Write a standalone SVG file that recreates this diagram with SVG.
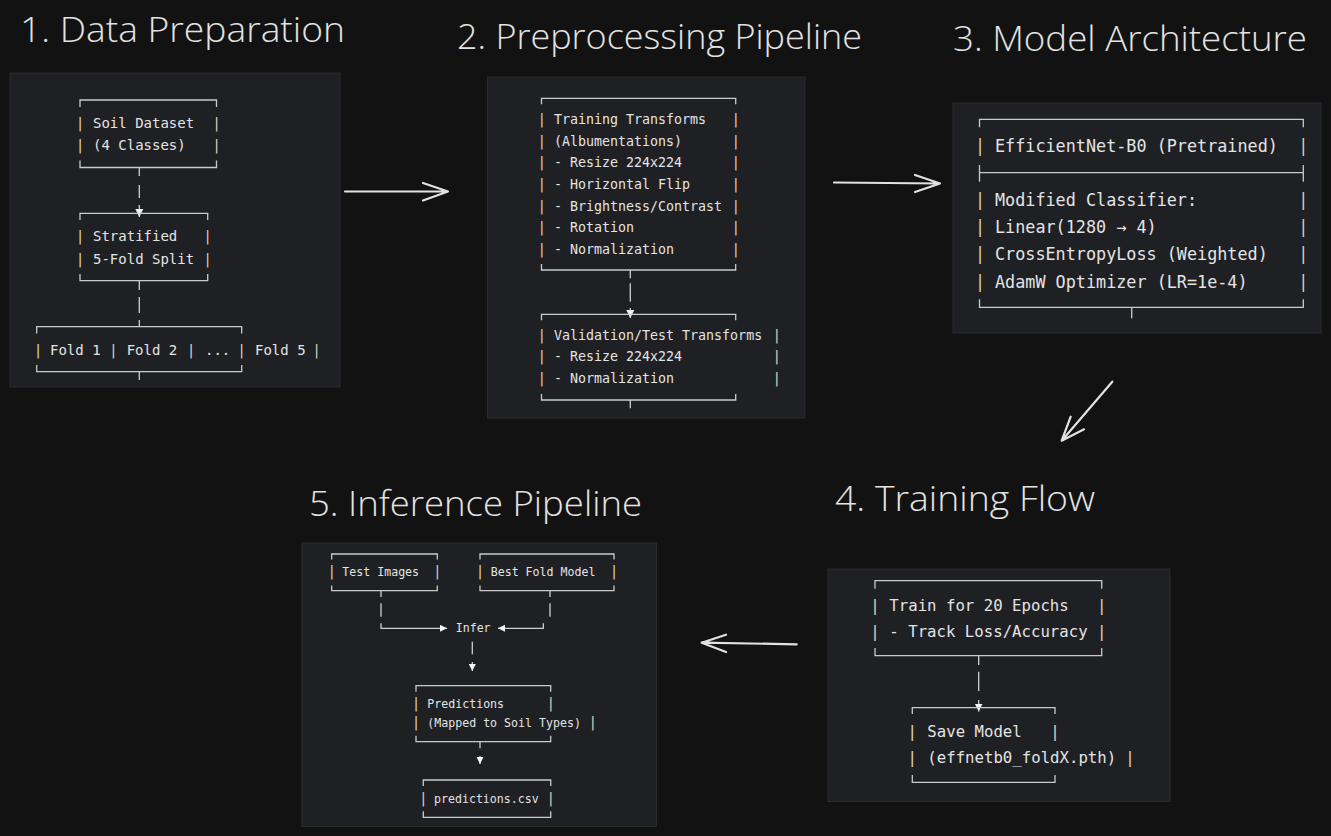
<svg xmlns="http://www.w3.org/2000/svg" width="1331" height="836" viewBox="0 0 1331 836">
<style>
.bg{fill:#121212}
.panel{fill:#1f2024;stroke:#2a2b2f;stroke-width:1}
.title{font-family:"Open Sans","Noto Sans",sans-serif;fill:#e3e3e3;font-size:34px;font-weight:300}
.mono{font-family:"DejaVu Sans Mono","Liberation Mono",monospace;fill:#e4e4e4}
.bar{font-family:"DejaVu Sans Mono","Liberation Mono",monospace;fill:#d9cdb9;text-anchor:middle}
.p1{font-size:14px}.p2{font-size:13.3px}.p3{font-size:16.8px}.p4{font-size:15.7px}.p5{font-size:11.6px}
.b1{font-size:14.5px}.b2{font-size:14.3px}.b3{font-size:16.8px}.b4{font-size:16.5px}.b5{font-size:14.3px}
.box{fill:none;stroke:#cacaca;stroke-width:1.3}
.conn{fill:none;stroke:#cfcfcf;stroke-width:1.3}
.big{fill:none;stroke:#e2e2e2;stroke-width:2.2;stroke-linecap:round;stroke-linejoin:round}
</style>
<defs>
<marker id="tri" viewBox="0 0 10 10" refX="10" refY="5" markerUnits="userSpaceOnUse" markerWidth="8" markerHeight="9" orient="auto">
<path d="M0,0 L10,5 L0,10 z" fill="#f2f2f2"/>
</marker>
<marker id="tri5" viewBox="0 0 10 10" refX="10" refY="5" markerUnits="userSpaceOnUse" markerWidth="7" markerHeight="7.5" orient="auto">
<path d="M0,0 L10,5 L0,10 z" fill="#f2f2f2"/>
</marker>
</defs>
<rect class="bg" x="0" y="0" width="1331" height="836"/>

<g id="panels">
<rect class="panel" x="10" y="73" width="330" height="314"/>
<rect class="panel" x="487.5" y="77" width="317.5" height="341"/>
<rect class="panel" x="953" y="103" width="368" height="230"/>
<rect class="panel" x="302" y="543" width="354.5" height="283.5"/>
<rect class="panel" x="828" y="569" width="342" height="232.5"/>
</g>

<g id="titles">
<text class="title" x="20" y="42" textLength="325" lengthAdjust="spacingAndGlyphs">1. Data Preparation</text>
<text class="title" x="457" y="49" textLength="405" lengthAdjust="spacingAndGlyphs">2. Preprocessing Pipeline</text>
<text class="title" x="953" y="51" textLength="354" lengthAdjust="spacingAndGlyphs">3. Model Architecture</text>
<text class="title" x="835" y="511" textLength="260" lengthAdjust="spacingAndGlyphs">4. Training Flow</text>
<text class="title" x="309" y="516" textLength="333" lengthAdjust="spacingAndGlyphs">5. Inference Pipeline</text>
</g>

<g id="connectors">
<path class="conn" d="M139.3,167.5 V176 M139.3,185 V198 M139.3,205 V217" marker-end="url(#tri)"/>
<path class="conn" d="M139.3,280.7 V290 M139.3,297 V313 M139.3,320 V326.7"/>
<path class="conn" d="M139.3,371.7 V380"/>
<path class="conn" d="M630.3,270 V278.3 M630.3,283.3 V301.7 M630.3,308 V318" marker-end="url(#tri)"/>
<path class="conn" d="M630.3,400 V408.3"/>
<path class="conn" d="M1131.7,307.3 V318.3"/>
<path class="conn" d="M978.7,655.7 V665 M978.7,671.7 V691 M978.7,700 V711.5" marker-end="url(#tri)"/>
<path class="conn" d="M381,590.7 V597 M381,603.3 V616.7 M381,623.3 V628.3 H447" marker-end="url(#tri5)"/>
<path class="conn" d="M550,590.7 V597 M550,603.3 V616.7 M543.3,623.3 V628.3 H498" marker-end="url(#tri5)"/>
<path class="conn" d="M472.3,641.7 V654.3 M472.3,662 V671" marker-end="url(#tri5)"/>
<path class="conn" d="M480,741.7 V748.3 M480,756 V764" marker-end="url(#tri5)"/>
<path class="big" d="M345,191.5 L448,191.5 M423,183 L448,191.5 L423,200.5"/>
<path class="big" d="M834,182.5 L940,183.5 M915,175 L940,183.5 L915,192"/>
<path class="big" d="M1112.3,381.7 L1061.7,440.7 M1070.7,416.7 L1061.7,440.7 L1084,429.3"/>
<path class="big" d="M796.7,644.3 L701.7,642.7 M726,634.7 L701.7,642.7 L726,652"/>
</g>

<g id="soil-dataset">
<path class="box" d="M80,107 V100 H216.5 V107 M80,160.5 V167.5 H216.5 V160.5"/>
<text class="bar b1" x="80" y="127.5">|</text><text class="bar b1" x="216.5" y="127.5">|</text>
<text class="bar b1" x="80" y="150">|</text><text class="bar b1" x="216.5" y="150">|</text>
<text class="mono p1" x="93" y="127.5">Soil Dataset</text>
<text class="mono p1" x="93" y="150">(4 Classes)</text>
</g>

<g id="stratified-split">
<path class="box" d="M80,220 V213.3 H207.7 V220 M80,274 V280.7 H207.7 V274"/>
<text class="bar b1" x="80" y="241">|</text><text class="bar b1" x="207.7" y="241">|</text>
<text class="bar b1" x="80" y="263.5">|</text><text class="bar b1" x="207.7" y="263.5">|</text>
<text class="mono p1" x="93" y="241">Stratified</text>
<text class="mono p1" x="93" y="263.5">5-Fold Split</text>
</g>

<g id="folds">
<path class="box" d="M36.7,333.4 V326.7 H241.7 V333.4 M36.7,365 V371.7 H241.7 V365"/>
<text class="bar b1" x="38" y="354.5">|</text>
<text class="bar b1" x="113.3" y="354.5">|</text>
<text class="bar b1" x="191" y="354.5">|</text>
<text class="bar b1" x="241.7" y="354.5">|</text>
<text class="bar b1" x="316.7" y="354.5">|</text>
<text class="mono p1" x="50" y="354.5">Fold 1</text>
<text class="mono p1" x="126.7" y="354.5">Fold 2</text>
<text class="mono p1" x="205" y="354.5">...</text>
<text class="mono p1" x="255" y="354.5">Fold 5</text>
</g>

<g id="training-transforms">
<path class="box" d="M541.5,104.3 V98.3 H735.7 V104.3 M541.5,264 V270 H735.7 V264"/>
<text class="bar b2" x="541.7" y="124">|</text><text class="bar b2" x="735.7" y="124">|</text>
<text class="bar b2" x="541.7" y="145.7">|</text><text class="bar b2" x="735.7" y="145.7">|</text>
<text class="bar b2" x="541.7" y="167.4">|</text><text class="bar b2" x="735.7" y="167.4">|</text>
<text class="bar b2" x="541.7" y="189">|</text><text class="bar b2" x="735.7" y="189">|</text>
<text class="bar b2" x="541.7" y="210.7">|</text><text class="bar b2" x="735.7" y="210.7">|</text>
<text class="bar b2" x="541.7" y="232.4">|</text><text class="bar b2" x="735.7" y="232.4">|</text>
<text class="bar b2" x="541.7" y="254">|</text><text class="bar b2" x="735.7" y="254">|</text>
<text class="mono p2" x="554" y="124">Training Transforms</text>
<text class="mono p2" x="554" y="145.7">(Albumentations)</text>
<text class="mono p2" x="554" y="167.4">- Resize 224x224</text>
<text class="mono p2" x="554" y="189">- Horizontal Flip</text>
<text class="mono p2" x="554" y="210.7">- Brightness/Contrast</text>
<text class="mono p2" x="554" y="232.4">- Rotation</text>
<text class="mono p2" x="554" y="254">- Normalization</text>
</g>

<g id="validation-transforms">
<path class="box" d="M541.5,320.3 V314.3 H735.7 V320.3 M541.5,394 V400 H735.7 V394"/>
<text class="bar b2" x="541.7" y="339.7">|</text><text class="bar b2" x="776.7" y="339.7">|</text>
<text class="bar b2" x="541.7" y="361.4">|</text><text class="bar b2" x="776.7" y="361.4">|</text>
<text class="bar b2" x="541.7" y="383">|</text><text class="bar b2" x="776.7" y="383">|</text>
<text class="mono p2" x="554" y="339.7">Validation/Test Transforms</text>
<text class="mono p2" x="554" y="361.4">- Resize 224x224</text>
<text class="mono p2" x="554" y="383">- Normalization</text>
</g>

<g id="model">
<path class="box" d="M979.5,127.3 V119.3 H1303.3 V127.3 M979.5,299.3 V307.3 H1303.3 V299.3 M979.5,165 V181.7 M979.5,172.7 H1303.3 M1303.3,165 V181.7"/>
<text class="bar b3" x="980" y="151.7">|</text><text class="bar b3" x="1303.3" y="151.7">|</text>
<text class="bar b3" x="980" y="206">|</text><text class="bar b3" x="1303.3" y="206">|</text>
<text class="bar b3" x="980" y="233.3">|</text><text class="bar b3" x="1303.3" y="233.3">|</text>
<text class="bar b3" x="980" y="260">|</text><text class="bar b3" x="1303.3" y="260">|</text>
<text class="bar b3" x="980" y="287.7">|</text><text class="bar b3" x="1303.3" y="287.7">|</text>
<text class="mono p3" x="995" y="151.7">EfficientNet-B0 (Pretrained)</text>
<text class="mono p3" x="995" y="206">Modified Classifier:</text>
<text class="mono p3" x="995" y="233.3">Linear(1280 → 4)</text>
<text class="mono p3" x="995" y="260">CrossEntropyLoss (Weighted)</text>
<text class="mono p3" x="995" y="287.7">AdamW Optimizer (LR=1e-4)</text>
</g>

<g id="train-epochs">
<path class="box" d="M875,588.7 V580.7 H1101.7 V588.7 M875,648 V655.7 H1101.7 V648"/>
<text class="bar b4" x="875" y="611.3">|</text><text class="bar b4" x="1101.7" y="611.3">|</text>
<text class="bar b4" x="875" y="636.6">|</text><text class="bar b4" x="1101.7" y="636.6">|</text>
<text class="mono p4" x="889.3" y="611.3">Train for 20 Epochs</text>
<text class="mono p4" x="889.3" y="636.6">- Track Loss/Accuracy</text>
</g>

<g id="save-model">
<path class="box" d="M912.3,714 V707.7 H1055 V714 M912.3,775 V782.3 H1055 V775"/>
<text class="bar b4" x="912.3" y="737.3">|</text><text class="bar b4" x="1055" y="737.3">|</text>
<text class="bar b4" x="912.3" y="763.3">|</text><text class="bar b4" x="1130" y="763.3">|</text>
<text class="mono p4" x="927.3" y="737.3">Save Model</text>
<text class="mono p4" x="927.3" y="763.3">(effnetb0_foldX.pth)</text>
</g>

<g id="test-images">
<path class="box" d="M331.7,559.5 V554 H437.3 V559.5 M331.7,585.5 V590.7 H437.3 V585.5"/>
<text class="bar b5" x="331.7" y="576.3">|</text><text class="bar b5" x="437.3" y="576.3">|</text>
<text class="mono p5" x="342.3" y="576.3">Test Images</text>
</g>

<g id="best-fold-model">
<path class="box" d="M480,559.5 V554 H614 V559.5 M480,585.5 V590.7 H614 V585.5"/>
<text class="bar b5" x="480" y="576.3">|</text><text class="bar b5" x="614" y="576.3">|</text>
<text class="mono p5" x="490.7" y="576.3">Best Fold Model</text>
</g>

<g id="infer">
<text class="mono p5" x="455.7" y="632.4">Infer</text>
</g>

<g id="predictions">
<path class="box" d="M416,691.7 V685.7 H550.7 V691.7 M416,735.7 V741.7 H550.7 V735.7"/>
<text class="bar b5" x="416" y="708.4">|</text><text class="bar b5" x="550.7" y="708.4">|</text>
<text class="bar b5" x="416" y="727.4">|</text><text class="bar b5" x="592.7" y="727.4">|</text>
<text class="mono p5" x="427.3" y="708.4">Predictions</text>
<text class="mono p5" x="427.3" y="727.4">(Mapped to Soil Types)</text>
</g>

<g id="predictions-csv">
<path class="box" d="M423.3,786 V780 H550.7 V786 M423.3,811.3 V817.3 H550.7 V811.3"/>
<text class="bar b5" x="423.3" y="803">|</text><text class="bar b5" x="550.7" y="803">|</text>
<text class="mono p5" x="434" y="803">predictions.csv</text>
</g>
</svg>
